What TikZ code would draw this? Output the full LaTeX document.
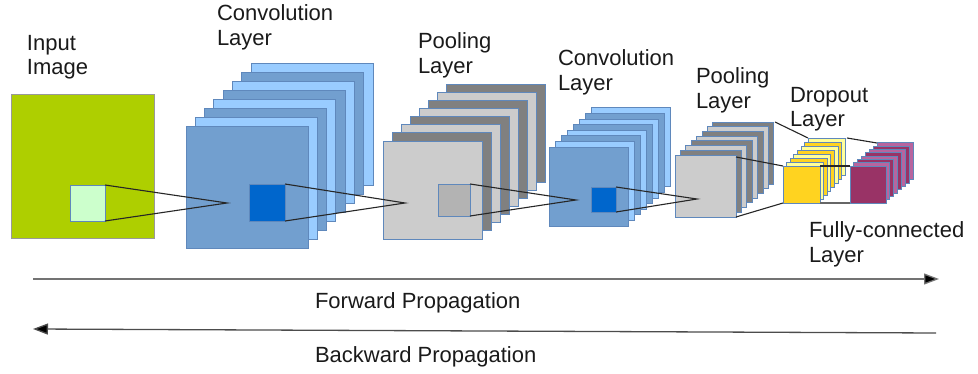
\documentclass[tikz,border=0pt]{standalone}
\usepackage{fontspec}
\setmainfont{Liberation Sans}
\usetikzlibrary{arrows.meta}
\definecolor{ingreen}{HTML}{AECF00}
\definecolor{inlight}{HTML}{CCFFCC}
\definecolor{convdark}{HTML}{729FCF}
\definecolor{convlight}{HTML}{99CCFF}
\definecolor{convdeep}{HTML}{0066CC}
\definecolor{poollight}{HTML}{CCCCCC}
\definecolor{pooldark}{HTML}{808080}
\definecolor{poolin}{HTML}{B3B3B3}
\definecolor{dropgold}{HTML}{FFD320}
\definecolor{droplight}{HTML}{FFFF99}
\definecolor{fcdark}{HTML}{993366}
\definecolor{fclight}{HTML}{B8649E}
\definecolor{edge}{HTML}{5F88BC}
\definecolor{txt}{HTML}{1A1A1A}
\newcommand{\drawstack}[8]{%
  \foreach \i in {7,6,...,1}{%
    \ifodd\i\relax\def\col{#8}\else\def\col{#7}\fi
    \draw[layer,fill=\col] ({#1+\i*#5},{#2+\i*#6}) rectangle ++(#3,#4);
  }}
\begin{document}
\begin{tikzpicture}[x=1pt,y=-1pt,
  layer/.style={draw=edge,line width=0.8pt},
  sq/.style={layer,anchor=north west,inner sep=0pt,outer sep=0pt},
  conn/.style={draw=black!85,line width=1.1pt},
  lbl/.style={anchor=north west,inner sep=0pt,outer sep=0pt,align=left,text=txt,
    font=\fontsize{22}{24.5}\selectfont},
  prop/.style={draw=black!55,line width=1.3pt,-{Triangle[length=15pt,width=11pt,fill=black]}}]
\useasboundingbox (0,0) rectangle (978,374);
% input image
\node[sq,fill=ingreen,draw=black!40,minimum width=143pt,minimum height=144pt] (input) at (11,94) {};
\node[sq,fill=inlight,minimum width=35pt,minimum height=36pt] (ink) at (70,185) {};
% convolution layer 1
\drawstack{186}{126}{122}{122}{9.29}{-9}{convdark}{convlight}
\node[sq,fill=convdark,minimum width=122pt,minimum height=122pt] (conv1) at (186,126) {};
\node[sq,fill=convdeep,minimum width=36pt,minimum height=37pt] (c1k) at (249,184) {};
\coordinate (c1p) at (227,203);
% pooling layer 1
\drawstack{383}{141}{99}{98}{9}{-8.1}{poollight}{pooldark}
\node[sq,fill=poollight,minimum width=99pt,minimum height=98pt] (pool1) at (383,141) {};
\node[sq,fill=poolin,minimum width=32pt,minimum height=32pt] (p1k) at (438,184) {};
\coordinate (p1p) at (405,203);
% convolution layer 2
\drawstack{549}{147}{79}{79}{6}{-5.6}{convdark}{convlight}
\node[sq,fill=convdark,minimum width=79pt,minimum height=79pt] (conv2) at (549,147) {};
\node[sq,fill=convdeep,minimum width=25pt,minimum height=25pt] (c2k) at (591,187) {};
\coordinate (c2p) at (576,200);
% pooling layer 2
\drawstack{675}{155}{61}{62}{5.4}{-4.7}{poollight}{pooldark}
\node[sq,fill=poollight,minimum width=61pt,minimum height=62pt] (pool2) at (675,155) {};
\coordinate (p2p) at (697,199);
\coordinate (p2b) at (775,122);
\coordinate (p2m) at (736,157);
% dropout layer
\drawstack{783}{166}{37}{37}{3.6}{-4}{dropgold}{droplight}
\node[sq,fill=dropgold,minimum width=37pt,minimum height=37pt] (drop) at (783,166) {};
\coordinate (db) at (808,138);
\coordinate (dbr) at (847,138);
% fully connected layer
\drawstack{850}{166}{36}{37}{3.86}{-3.3}{fcdark}{fclight}
\node[sq,fill=fcdark,minimum width=36pt,minimum height=37pt] (fc) at (850,166) {};
\coordinate (fb) at (877,143);
% connectors
\draw[conn] (ink.north east) -- (c1p) -- (ink.south east);
\draw[conn] (c1k.north east) -- (p1p) -- (c1k.south east);
\draw[conn] (p1k.north east) -- (c2p) -- (p1k.south east);
\draw[conn] (c2k.north east) -- (p2p) -- (c2k.south east);
\draw[conn] (p2b) -- (db);
\draw[conn] (p2m) -- (drop.north west);
\draw[conn] (pool2.south east) -- (drop.south west);
\draw[conn] (dbr) -- (fb);
\draw[conn] (drop.north east) -- (fc.north west);
\draw[conn,draw=black!60,line width=1.6pt] (drop.south east) -- (fc.south west);
% labels
\node[lbl] (lin) at (27,35) {Input\\Image};
\node[lbl] (lc1) at (217,5) {Convolution\\Layer};
\node[lbl] (lp1) at (418,33) {Pooling\\Layer};
\node[lbl] (lc2) at (558,50) {Convolution\\Layer};
\node[lbl] (lp2) at (696,68) {Pooling\\Layer};
\node[lbl] (ld) at (790,87) {Dropout\\Layer};
\node[lbl] (lfc) at (809,222) {Fully-connected\\Layer};
% propagation arrows
\coordinate (fs) at (33,279);
\coordinate (fe) at (939,279);
\coordinate (bs) at (936,333);
\coordinate (be) at (33,329);
\draw[prop] (fs) -- (fe);
\draw[prop,draw=black!70] (bs) -- (be);
\node[lbl] (lf) at (315,293) {Forward Propagation};
\node[lbl] (lb) at (315,347) {Backward Propagation};
\end{tikzpicture}
\end{document}
